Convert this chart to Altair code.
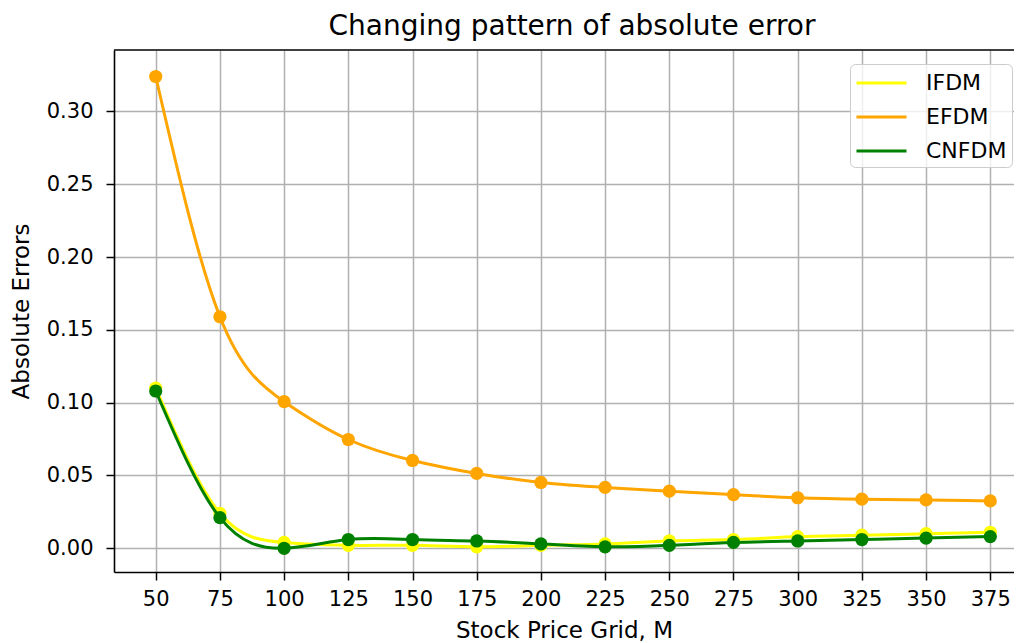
import altair as alt
import pandas as pd

# ---- data ----
M = [50, 75, 100, 125, 150, 175, 200, 225, 250, 275, 300, 325, 350, 375]
IFDM = [0.110, 0.024, 0.004, 0.002, 0.002, 0.001, 0.002, 0.003, 0.005, 0.006, 0.008, 0.009, 0.010, 0.011]
EFDM = [0.324, 0.159, 0.1007, 0.0747, 0.0603, 0.0514, 0.0452, 0.0418, 0.0392, 0.0368, 0.0347, 0.0337, 0.0332, 0.0325]
CNFDM = [0.108, 0.021, 0.000, 0.006, 0.006, 0.005, 0.003, 0.001, 0.002, 0.004, 0.005, 0.006, 0.007, 0.008]
series_names = ["IFDM", "EFDM", "CNFDM"]
series_colors = ["yellow", "orange", "green"]
y_ticks = [0.0, 0.05, 0.10, 0.15, 0.20, 0.25, 0.30]
x_domain = [33.75, 384.24]
y_domain = [-0.0163, 0.3422]

rows = []
for name, vals in zip(series_names, [IFDM, EFDM, CNFDM]):
    for m, v in zip(M, vals):
        rows.append({"M": m, "err": v, "method": name})
df = pd.DataFrame(rows)

FONT = "DejaVu Sans"

xs = alt.Scale(domain=x_domain, nice=False, zero=False)
ys = alt.Scale(domain=y_domain, nice=False, zero=False)
x = alt.X("M:Q", scale=xs,
          axis=alt.Axis(values=M, title="Stock Price Grid, M", labelOverlap=False,
                        labelFlush=False, labelPadding=8, titlePadding=10))
y = alt.Y("err:Q", scale=ys,
          axis=alt.Axis(values=y_ticks, format=".2f", title="Absolute Errors",
                        labelPadding=13, titlePadding=13))
color_scale = alt.Scale(domain=series_names, range=series_colors)
legend = alt.Legend(orient="none", legendX=736, legendY=14, title=None,
                    symbolType="M-1,0L3,0", symbolSize=625, symbolStrokeWidth=3,
                    labelFontSize=22, labelFont=FONT, labelColor="black",
                    labelOffset=43, rowPadding=9, padding=5,
                    fillColor="rgba(255,255,255,0.8)", strokeColor="#cccccc",
                    cornerRadius=5)

# top spine of the axes frame (right spine lies outside the picture)
frame_top = alt.Chart(pd.DataFrame({"a": [0]})).mark_rule(
    color="black", strokeWidth=1.6).encode(
    x=alt.datum(x_domain[0], scale=xs), x2=alt.datum(x_domain[1]),
    y=alt.datum(y_domain[1], scale=ys))

layers = []
for name in series_names:
    base = alt.Chart(df).transform_filter(alt.datum.method == name)
    layers.append(base.mark_line(interpolate="natural", strokeWidth=3).encode(
        x=x, y=y, color=alt.Color("method:N", scale=color_scale, legend=legend)))
    layers.append(base.mark_circle(size=175, opacity=1).encode(
        x=x, y=y, color=alt.Color("method:N", scale=color_scale, legend=None)))
layers.append(frame_top)

chart = alt.layer(*layers).properties(
    width=900, height=522,
    title=alt.TitleParams("Changing pattern of absolute error", fontSize=28, font=FONT,
                          fontWeight="normal", color="black", offset=8, dx=8,
                          anchor="middle"),
    autosize=alt.AutoSizeParams(type="none"),
    padding={"left": 106, "top": 42, "right": 0, "bottom": 80},
).configure_view(
    strokeWidth=0
).configure_axis(
    domain=True, domainColor="black", domainWidth=1.6,
    grid=True, gridColor="#b0b0b0", gridWidth=1.5,
    tickColor="black", tickSize=8, tickWidth=1.5,
    labelFont=FONT, labelFontSize=21, labelColor="black",
    titleFont=FONT, titleFontSize=23, titleFontWeight="normal", titleColor="black",
)

chart.save("out.html", embed_options={"renderer": "svg", "actions": False})
